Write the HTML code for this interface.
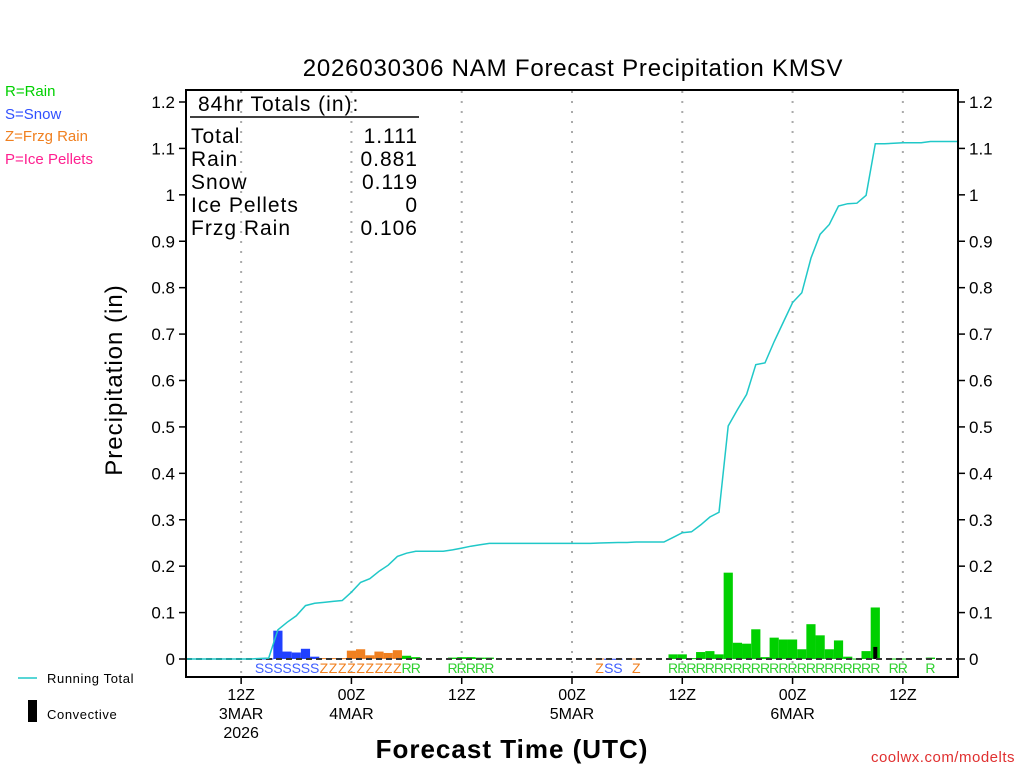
<!DOCTYPE html>
<html><head><meta charset="utf-8"><style>
html,body{margin:0;padding:0;background:#fff;}
svg{display:block;font-family:"Liberation Sans","DejaVu Sans",sans-serif;}
</style></head><body>
<svg id="chart" width="1024" height="768" viewBox="0 0 1024 768">
<rect x="0" y="0" width="1024" height="768" fill="#fff"/>
<text x="573" y="76" text-anchor="middle" font-size="24" letter-spacing="0.8" fill="#000">2026030306 NAM Forecast Precipitation KMSV</text>
<g font-size="15">
<text x="5" y="96" fill="#00d000">R=Rain</text>
<text x="5" y="119" fill="#3050ff">S=Snow</text>
<text x="5" y="141" fill="#f08020">Z=Frzg Rain</text>
<text x="5" y="164" fill="#ff2090">P=Ice Pellets</text>
</g>
<g id="grid"></g>
<g id="bars"></g>
<g id="letters" font-size="14"></g>
<line x1="186" y1="659" x2="958" y2="659" stroke="#333" stroke-width="2" stroke-dasharray="6,4"/>
<polyline id="runline" fill="none" stroke="#20c8c8" stroke-width="1.5"/>
<rect x="186" y="90" width="772" height="587" fill="none" stroke="#000" stroke-width="2"/>
<g id="yaxis" font-size="17"></g>
<g id="xaxis" font-size="16"></g>
<g font-size="21" fill="#000" letter-spacing="1">
<text x="198" y="111">84hr Totals (in):</text>
<line x1="190" y1="117" x2="419" y2="117" stroke="#000" stroke-width="1.5"/>
<text x="191" y="143">Total</text><text x="418" y="143" text-anchor="end">1.111</text>
<text x="191" y="166">Rain</text><text x="418" y="166" text-anchor="end">0.881</text>
<text x="191" y="189">Snow</text><text x="418" y="189" text-anchor="end">0.119</text>
<text x="191" y="212">Ice Pellets</text><text x="418" y="212" text-anchor="end">0</text>
<text x="191" y="235">Frzg Rain</text><text x="418" y="235" text-anchor="end">0.106</text>
</g>
<text transform="translate(122,380) rotate(-90)" text-anchor="middle" font-size="24" letter-spacing="1">Precipitation (in)</text>
<text x="512" y="758" text-anchor="middle" font-size="26" font-weight="bold" letter-spacing="1">Forecast Time (UTC)</text>
<text x="1015" y="762" text-anchor="end" font-size="15" letter-spacing="0.5" fill="#e03030">coolwx.com/modelts</text>
<g font-size="13" letter-spacing="0.6">
<line x1="18" y1="678" x2="37" y2="678" stroke="#20c8c8" stroke-width="1.5"/>
<text x="47" y="683">Running Total</text>
<rect x="28" y="700" width="9" height="22" fill="#000"/>
<text x="47" y="719">Convective</text>
</g>
</svg>
<script>
const hours=[];for(let h=0;h<=84;h++)hours.push(h);
const rain=new Array(85).fill(0), snow=new Array(85).fill(0), frzg=new Array(85).fill(0), conv=new Array(85).fill(0);
const snowHours=[8,9,10,11,12,13,14,46,47];
const snowVals=[0.001,0.001,0.061,0.016,0.014,0.022,0.005,0.0005,0.0005];
const frzgHours=[15,16,17,18,19,20,21,22,23,45,49];
const frzgVals=[0.002,0.002,0.002,0.018,0.021,0.008,0.016,0.013,0.019,0.001,0.001];
const rainHours=[24,25,29,30,31,32,33,53,54,55,56,57,58,59,60,61,62,63,64,65,66,67,68,69,70,71,72,73,74,75,77,78,81];
const rainVals=[0.007,0.004,0.003,0.004,0.004,0.003,0.003,0.01,0.01,0.002,0.015,0.017,0.01,0.186,0.035,0.033,0.064,0.004,0.046,0.042,0.042,0.021,0.075,0.051,0.021,0.04,0.005,0.001,0.017,0.111,0.001,0.001,0.003];
const convHours=[75];
const convVals=[0.026];
const yTicks=[0,0.1,0.2,0.3,0.4,0.5,0.6,0.7,0.8,0.9,1,1.1,1.2];
const yTickLabels=["0","0.1","0.2","0.3","0.4","0.5","0.6","0.7","0.8","0.9","1","1.1","1.2"];
const xTickHours=[6,18,30,42,54,66,78];
const xTickLabels=[["12Z","3MAR","2026"],["00Z","4MAR"],["12Z"],["00Z","5MAR"],["12Z"],["00Z","6MAR"],["12Z"]];
snowHours.forEach((h,i)=>snow[h]=snowVals[i]);
frzgHours.forEach((h,i)=>frzg[h]=frzgVals[i]);
rainHours.forEach((h,i)=>rain[h]=rainVals[i]);
convHours.forEach((h,i)=>conv[h]=convVals[i]);
const NS='http://www.w3.org/2000/svg';
const x0=186,x1=958,yb=659,yt=102;
const X=h=>x0+h*(x1-x0)/84;
const Y=v=>yb-v*(yb-yt)/1.2;
const bw=(x1-x0)/84;
function mk(tag,attrs,parent){const e=document.createElementNS(NS,tag);for(const k in attrs)e.setAttribute(k,attrs[k]);parent.appendChild(e);return e;}
const grid=document.getElementById('grid'),bars=document.getElementById('bars'),lett=document.getElementById('letters'),ya=document.getElementById('yaxis'),xa=document.getElementById('xaxis');
xTickHours.forEach((h,i)=>{
 const g=mk('line',{x1:X(h),x2:X(h),y1:91,y2:676,stroke:'#aaa','stroke-width':2,'stroke-dasharray':'2,8'},grid);
 
 
 mk('line',{x1:X(h),x2:X(h),y1:677,y2:684,stroke:'#000','stroke-width':1.5},xa);
 xTickLabels[i].forEach((s,j)=>{
  const t=mk('text',{x:X(h),y:700+j*19,'text-anchor':'middle'},xa);t.textContent=s;
  
  
 });
});
yTicks.forEach((v,i)=>{
 mk('line',{x1:179,x2:186,y1:Y(v),y2:Y(v),stroke:'#000','stroke-width':1.5},ya);
 mk('line',{x1:958,x2:965,y1:Y(v),y2:Y(v),stroke:'#000','stroke-width':1.5},ya);
 const t=mk('text',{x:175,y:Y(v)+6,'text-anchor':'end'},ya);t.textContent=yTickLabels[i];
 
 
 const t2=mk('text',{x:969,y:Y(v)+6},ya);t2.textContent=yTickLabels[i];
 
 
});
const pts=[];let cum=0;
for(let h=0;h<=84;h++){
 const tot=rain[h]+snow[h]+frzg[h];
 cum+=tot;pts.push(X(h).toFixed(1)+','+Y(cum).toFixed(1));
 const types=[[snow[h],'#2040ff','S','#4060ff'],[frzg[h],'#f08020','Z','#f08020'],[rain[h],'#00d000','R','#30d030']];
 let best=null;types.forEach(t=>{if(t[0]>0&&(!best||t[0]>best[0]))best=t;});
 if(best){
  const r=mk('rect',{x:X(h)-bw/2,y:Y(tot),width:bw,height:Math.max(yb-Y(tot),1),fill:best[1]},bars);
  
  
  const t=mk('text',{x:X(h),y:673,'text-anchor':'middle',fill:best[3]},lett);t.textContent=best[2];
  
  
 }
 if(conv[h]>0){
  const c=mk('rect',{x:X(h)-2,y:Y(conv[h]),width:4,height:yb-Y(conv[h]),fill:'#000'},bars);
  
  
 }
}
document.getElementById('runline').setAttribute('points',pts.join(' '));
</script>
</body></html>
